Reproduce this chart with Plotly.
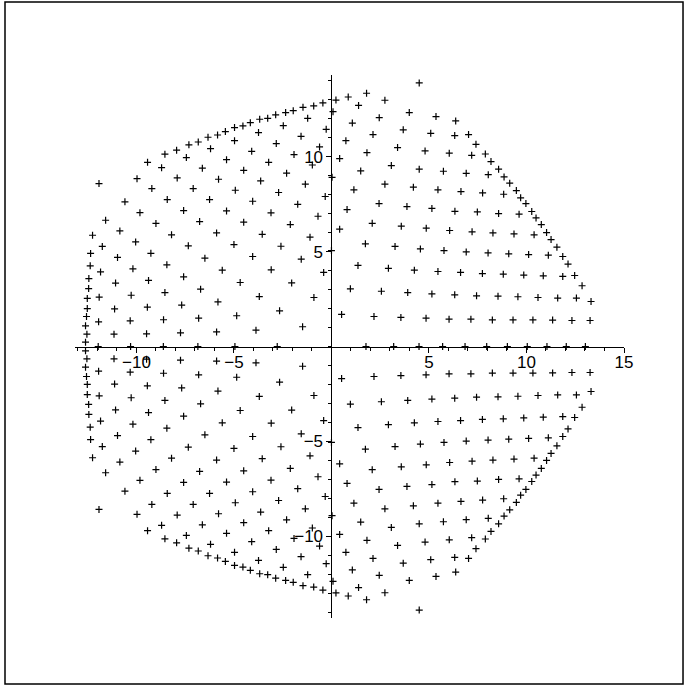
import plotly.graph_objects as go

# points, upper half (y > 0)
x_upper = [
    -4.16, -4.54, -4.97, -5.44, -5.84, -6.33, -6.83, -7.31, -7.94, -8.54, -9.43, -11.92,
    -4.97, -6.20, -7.44, -8.71, -9.97,
    -4.09, -5.38, -6.62, -7.91, -9.21, -10.59,
    -4.50, -5.79, -7.09, -8.42,
    -4.93, -6.25, -4.04,
    -3.68, -3.27, -2.86, -2.35, -1.96, -1.46, -0.91, -0.44,
    -3.74, -2.47, -1.22, -0.27,
    -2.83, -1.56, -0.61,
    -3.22, -1.92, -0.98,
    -2.30, -3.63, -1.34,
    -2.71, -0.32, -1.73,
    0.23, 0.86, 1.80, 4.50,
    0.08, 1.39, 2.74,
    1.07, 2.45, 3.99, 5.36,
    0.74, 2.13, 3.68, 5.09,
    0.42, 1.82, 3.39, 4.80,
    1.50, 3.07, 4.50,
    0.03, 1.15, 2.74, 4.20, 5.46,
    0.80, 2.44, 3.87, 5.15,
    6.37, 6.32, 7.03, 7.41, 6.04, 7.19, 7.89, 8.18, 5.74, 6.91,
    8.04, 8.57, 8.85, 9.14, 6.64, 7.75, 8.83, 9.48, 9.70, 9.97,
    -9.82, -7.58, -5.38,
    -11.58, -9.00, -6.76, -4.50,
    -12.25, -10.85, -8.20, -5.89,
    -12.35, -11.75, -10.04, -7.34, -5.00,
    -12.37, -10.97, -9.26, -6.49, -4.04,
    -12.44, -11.84, -10.18, -8.44, -5.60,
    -12.45, -11.07, -9.38, -7.58, -4.68,
    -12.52, -11.91, -10.27, -8.54, -6.71,
    -12.52, -11.12, -9.44, -7.68, -5.82,
    -12.56, -11.94, -10.32, -8.61, -6.81, -4.86,
    -12.61, -11.15, -9.48, -7.74, -5.89, -3.87,
    -12.54, -12.61,
    -3.10, -0.69, -2.11, -3.55, -1.10, 0.42, 2.09, 3.58, 4.86,
    -2.59, -1.55, 0.00, 1.74, 3.26, 4.56,
    -3.09, -0.40, -2.04, 1.36, 2.92, 4.25, 5.46,
    -3.70, -0.90, 0.97, 2.56, 3.91, 5.15,
    -2.66, 0.52, 2.18, 3.56, 4.85,
    -1.48,
    6.33, 7.48, 8.57, 9.62, 10.27,
    10.49, 10.76,
    6.06, 7.21, 8.28, 9.36, 10.39, 11.03, 11.26,
    5.77, 6.91, 8.03, 9.09, 10.11, 11.12, 11.56, 11.86, 12.13,
    6.62, 7.74, 8.81, 9.86, 10.86, 11.86, 12.47, 12.85,
    6.32, 7.44, 8.54, 9.56, 10.59, 11.60, 12.56, 13.31,
    6.03, 7.15, 8.25, 9.31, 10.33, 11.34, 12.33, 13.26,
]
y_upper = [
    11.79, 11.62, 11.53, 11.32, 11.14, 11.02, 10.77, 10.62, 10.34, 10.13, 9.70, 8.58,
    10.84, 10.42, 9.95, 9.42, 8.84,
    10.28, 9.84, 9.39, 8.88, 8.32, 7.62,
    9.28, 8.81, 8.32, 7.74,
    8.23, 7.74, 7.65,
    11.97, 12.02, 12.20, 12.32, 12.42, 12.60, 12.67, 12.83,
    11.27, 11.63, 12.02, 11.44,
    10.69, 11.07, 10.51,
    9.70, 10.11, 9.56,
    9.13, 8.72, 8.55,
    8.11, 7.90, 7.49,
    12.98, 13.14, 13.34, 13.88,
    12.37, 12.70, 12.97,
    11.77, 12.05, 12.32, 12.11,
    10.84, 11.16, 11.41, 11.23,
    9.90, 10.21, 10.48, 10.30,
    9.25, 9.53, 9.34,
    8.91, 8.25, 8.55, 8.39, 8.25,
    7.21, 7.53, 7.37, 7.27,
    11.88, 11.11, 11.16, 10.65, 10.18, 10.07, 10.14, 9.74, 9.23, 9.12,
    9.05, 9.34, 8.93, 8.60, 8.16, 8.09, 8.02, 8.21, 7.83, 7.53,
    7.05, 7.16, 7.14,
    6.65, 6.48, 6.58, 6.55,
    5.86, 6.09, 5.88, 5.98,
    4.90, 5.27, 5.51, 5.30, 5.37,
    4.25, 4.69, 4.91, 4.65, 4.74,
    3.58, 3.93, 4.09, 4.30, 4.02,
    3.05, 3.34, 3.48, 3.67, 3.37,
    2.53, 2.60, 2.70, 2.84, 3.02,
    2.00, 1.98, 2.07, 2.18, 2.35,
    1.58, 1.30, 1.35, 1.41, 1.49, 1.62,
    1.09, 0.65, 0.67, 0.72, 0.77, 0.86,
    0.65, 0.23,
    7.04, 6.86, 6.42, 5.91, 5.76, 6.18, 6.49, 6.34, 6.23,
    5.28, 4.60, 5.05, 5.41, 5.27, 5.14,
    4.04, 3.90, 3.35, 4.27, 4.12, 4.02, 3.95,
    2.63, 2.58, 3.04, 2.91, 2.84, 2.77,
    1.88, 1.69, 1.58, 1.53, 1.49,
    1.04,
    7.12, 7.09, 7.00, 6.97, 7.11,
    6.77, 6.42,
    6.11, 6.04, 5.98, 5.93, 5.88, 6.00, 5.63,
    5.05, 4.98, 4.93, 4.88, 4.84, 4.81, 5.23, 4.74, 4.34,
    3.90, 3.84, 3.81, 3.76, 3.72, 3.69, 3.74, 3.20,
    2.72, 2.67, 2.65, 2.62, 2.58, 2.55, 2.55, 2.37,
    1.44, 1.44, 1.40, 1.40, 1.40, 1.39, 1.37, 1.37,
]

# lower half (y < 0), the picture is mirrored about the x axis
x_lower = [
    -4.16, -4.54, -4.97, -5.44, -5.84, -6.33, -6.83, -7.31, -7.94, -8.54, -9.43, -11.92,
    -4.97, -6.20, -7.44, -8.71, -9.97,
    -4.09, -5.38, -6.62, -7.91, -9.21, -10.59,
    -4.50, -5.79, -7.09, -8.42,
    -4.93, -6.25, -4.04,
    -3.68, -3.27, -2.86, -2.35, -1.96, -1.46, -0.91, -0.44,
    -3.74, -2.47, -1.22, -0.27,
    -2.83, -1.56, -0.61,
    -3.22, -1.92, -0.98,
    -2.30, -3.63, -1.34,
    -2.71, -0.32, -1.73,
    0.23, 0.86, 1.80, 4.50,
    0.08, 1.39, 2.74,
    1.07, 2.45, 3.99, 5.36,
    0.74, 2.13, 3.68, 5.09,
    0.42, 1.82, 3.39, 4.80,
    1.50, 3.07, 4.50,
    0.03, 1.15, 2.74, 4.20, 5.46,
    0.80, 2.44, 3.87, 5.15,
    6.37, 6.32, 7.03, 7.41, 6.04, 7.19, 7.89, 8.18, 5.74, 6.91,
    8.04, 8.57, 8.85, 9.14, 6.64, 7.75, 8.83, 9.48, 9.70, 9.97,
    -9.82, -7.58, -5.38,
    -11.58, -9.00, -6.76, -4.50,
    -12.25, -10.85, -8.20, -5.89,
    -12.35, -11.75, -10.04, -7.34, -5.00,
    -12.37, -10.97, -9.26, -6.49, -4.04,
    -12.44, -11.84, -10.18, -8.44, -5.60,
    -12.45, -11.07, -9.38, -7.58, -4.68,
    -12.52, -11.91, -10.27, -8.54, -6.71,
    -12.52, -11.12, -9.44, -7.68, -5.82,
    -12.56, -11.94, -10.32, -8.61, -6.81, -4.86,
    -12.61, -11.15, -9.48, -7.74, -5.89, -3.87,
    -12.54, -12.61,
    -3.10, -0.69, -2.11, -3.55, -1.10, 0.42, 2.09, 3.58, 4.86,
    -2.59, -1.55, 0.00, 1.74, 3.26, 4.56,
    -3.09, -0.40, -2.04, 1.36, 2.92, 4.25, 5.46,
    -3.70, -0.90, 0.97, 2.56, 3.91, 5.15,
    -2.66, 0.52, 2.18, 3.56, 4.85,
    -1.48,
    6.33, 7.48, 8.57, 9.62, 10.27,
    10.49, 10.76,
    6.06, 7.21, 8.28, 9.36, 10.39, 11.03, 11.26,
    5.77, 6.91, 8.03, 9.09, 10.11, 11.12, 11.56, 11.86, 12.13,
    6.62, 7.74, 8.81, 9.86, 10.86, 11.86, 12.47, 12.85,
    6.32, 7.44, 8.54, 9.56, 10.59, 11.60, 12.56, 13.31,
    6.03, 7.15, 8.25, 9.31, 10.33, 11.34, 12.33, 13.26,
]
y_lower = [
    -11.79, -11.62, -11.53, -11.32, -11.14, -11.02, -10.77, -10.62, -10.34, -10.13, -9.70, -8.58,
    -10.84, -10.42, -9.95, -9.42, -8.84,
    -10.28, -9.84, -9.39, -8.88, -8.32, -7.62,
    -9.28, -8.81, -8.32, -7.74,
    -8.23, -7.74, -7.65,
    -11.97, -12.02, -12.20, -12.32, -12.42, -12.60, -12.67, -12.83,
    -11.27, -11.63, -12.02, -11.44,
    -10.69, -11.07, -10.51,
    -9.70, -10.11, -9.56,
    -9.13, -8.72, -8.55,
    -8.11, -7.90, -7.49,
    -12.98, -13.14, -13.34, -13.88,
    -12.37, -12.70, -12.97,
    -11.77, -12.05, -12.32, -12.11,
    -10.84, -11.16, -11.41, -11.23,
    -9.90, -10.21, -10.48, -10.30,
    -9.25, -9.53, -9.34,
    -8.91, -8.25, -8.55, -8.39, -8.25,
    -7.21, -7.53, -7.37, -7.27,
    -11.88, -11.11, -11.16, -10.65, -10.18, -10.07, -10.14, -9.74, -9.23, -9.12,
    -9.05, -9.34, -8.93, -8.60, -8.16, -8.09, -8.02, -8.21, -7.83, -7.53,
    -7.05, -7.16, -7.14,
    -6.65, -6.48, -6.58, -6.55,
    -5.86, -6.09, -5.88, -5.98,
    -4.90, -5.27, -5.51, -5.30, -5.37,
    -4.25, -4.69, -4.91, -4.65, -4.74,
    -3.58, -3.93, -4.09, -4.30, -4.02,
    -3.05, -3.34, -3.48, -3.67, -3.37,
    -2.53, -2.60, -2.70, -2.84, -3.02,
    -2.00, -1.98, -2.07, -2.18, -2.35,
    -1.58, -1.30, -1.35, -1.41, -1.49, -1.62,
    -1.09, -0.65, -0.67, -0.72, -0.77, -0.86,
    -0.65, -0.23,
    -7.04, -6.86, -6.42, -5.91, -5.76, -6.18, -6.49, -6.34, -6.23,
    -5.28, -4.60, -5.05, -5.41, -5.27, -5.14,
    -4.04, -3.90, -3.35, -4.27, -4.12, -4.02, -3.95,
    -2.63, -2.58, -3.04, -2.91, -2.84, -2.77,
    -1.88, -1.69, -1.58, -1.53, -1.49,
    -1.04,
    -7.12, -7.09, -7.00, -6.97, -7.11,
    -6.77, -6.42,
    -6.11, -6.04, -5.98, -5.93, -5.88, -6.00, -5.63,
    -5.05, -4.98, -4.93, -4.88, -4.84, -4.81, -5.23, -4.74, -4.34,
    -3.90, -3.84, -3.81, -3.76, -3.72, -3.69, -3.74, -3.20,
    -2.72, -2.67, -2.65, -2.62, -2.58, -2.55, -2.55, -2.37,
    -1.44, -1.44, -1.40, -1.40, -1.40, -1.39, -1.37, -1.37,
]

# points sitting on the x axis
x_axis_pts = [-11.96, -10.30, -8.62, -6.85, -4.95, -2.78, 1.77, 3.19, 4.49,
              5.70, 6.85, 7.96, 9.02, 10.04, 11.05, 12.04, 13.02]
y_axis_pts = [0.0] * len(x_axis_pts)

x_ticks = [-10, -5, 5, 10, 15]
y_ticks = [-10, -5, 5, 10]

xs = x_upper + x_lower + x_axis_pts
ys = y_upper + y_lower + y_axis_pts

fig = go.Figure()
fig.add_trace(go.Scatter(
    x=xs, y=ys, mode="markers",
    marker=dict(symbol="cross-thin", size=5, color="black",
                line=dict(width=1.2, color="black")),
    hoverinfo="skip", showlegend=False))

tick_font = dict(family="Liberation Sans Narrow, Arial Narrow, Liberation Sans, Arial",
                 size=17, color="black")

fig.update_layout(
    width=687, height=687,
    margin=dict(l=75, r=63, t=75, b=69),
    paper_bgcolor="white", plot_bgcolor="white",
    xaxis=dict(range=[-13.15, 15.0], anchor="free", position=0.5,
               showline=True, linecolor="black", linewidth=1,
               showgrid=False, zeroline=False,
               tickvals=x_ticks, ticks="outside", ticklen=5, tickcolor="black",
               tickfont=tick_font, ticklabelstandoff=-5,
               minor=dict(dtick=1, tick0=0, ticks="outside", ticklen=3,
                          tickcolor="black", showgrid=False)),
    yaxis=dict(range=[-14.3, 14.3], anchor="free", position=13.15 / 28.15,
               showline=True, linecolor="black", linewidth=1,
               showgrid=False, zeroline=False,
               tickvals=y_ticks, ticks="outside", ticklen=5, tickcolor="black",
               tickfont=tick_font,
               minor=dict(dtick=1, tick0=0, ticks="outside", ticklen=3,
                          tickcolor="black", showgrid=False)),
)

# frame round the whole picture
fig.add_shape(type="rect", xref="paper", yref="paper",
              x0=-0.1275, x1=1.1075, y0=-0.1215, y1=1.1344,
              line=dict(color="black", width=1.5))

# the page puts the figure at its very corner, as in the picture
fig.write_html("out.html", config={"displayModeBar": False},
               post_script="document.body.style.margin = '0';")
